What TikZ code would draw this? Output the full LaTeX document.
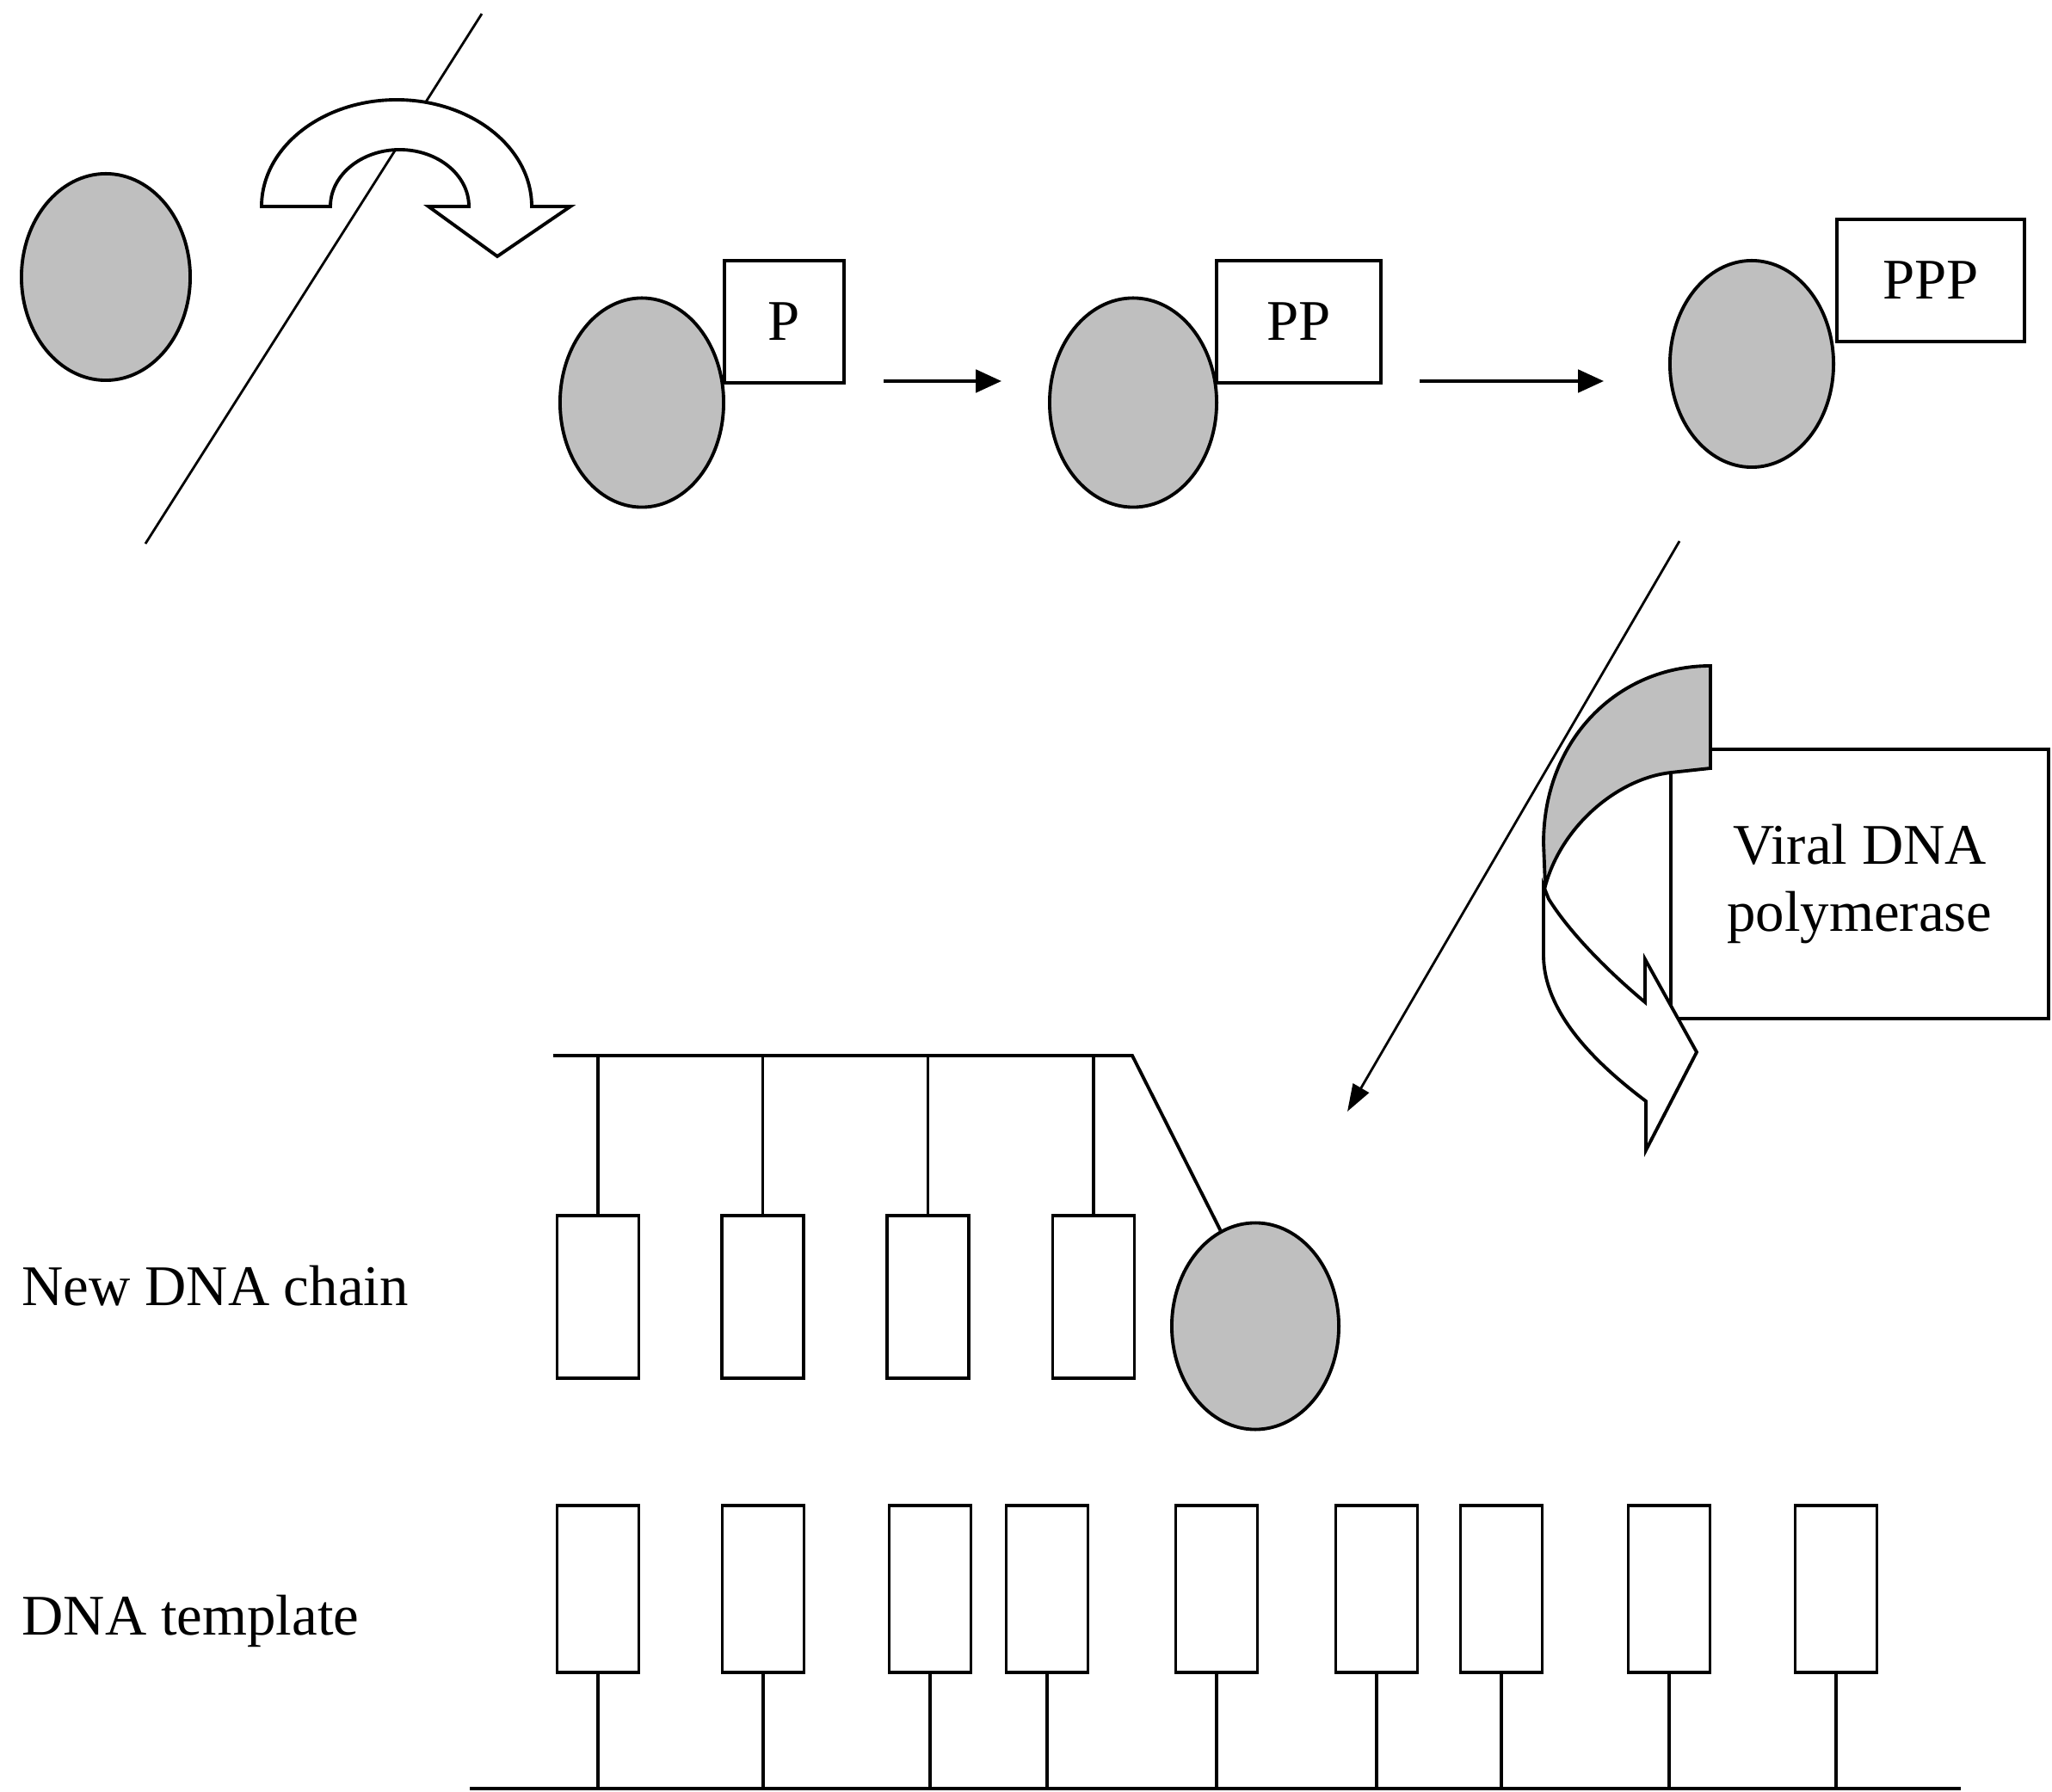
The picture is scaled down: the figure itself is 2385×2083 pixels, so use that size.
\documentclass[tikz,border=0pt]{standalone}
\usepackage{fontspec}
\setmainfont{Liberation Serif}
\usetikzlibrary{shapes.geometric,arrows.meta}
\definecolor{blobgray}{RGB}{191,191,191}
\tikzset{
  blob/.style={ellipse, draw=black, fill=blobgray, line width=1.1pt, inner sep=0pt},
  pbox/.style={rectangle, draw=black, fill=white, line width=1.1pt, inner sep=0pt, align=center, font=\fontsize{19}{22}\selectfont},
  basebox/.style={rectangle, draw=black, fill=white, line width=1.1pt, inner sep=0pt, minimum width=0.95cm},
  lbl/.style={inner sep=0pt, font=\fontsize{19}{22}\selectfont},
  stem/.style={line width=1.1pt},
  thinline/.style={line width=0.8pt},
  smallarrow/.style={line width=1.1pt, -{Triangle[length=8.5pt,width=7.5pt]}},
  curvearrow/.style={draw=black, line width=1.1pt, line join=miter},
}
\begin{document}
\begin{tikzpicture}[x=0.01cm,y=-0.01cm]
\useasboundingbox (0,0) rectangle (2385,2083);

% ---- top-left: free nucleoside, line and curved arrow
\coordinate (l0a) at (560,16);
\coordinate (l0b) at (169,632);
\draw[thinline] (l0a) -- (l0b);
\draw[curvearrow, fill=white] (304,240) arc[start angle=180, end angle=360, x radius=157, y radius=124]
  -- (663,240) -- (578,298) -- (498,240) -- (545,240)
  arc[start angle=360, end angle=180, x radius=80.5, y radius=66] -- cycle;
\node[blob, minimum width=1.96cm, minimum height=2.40cm] (E0) at (123,322) {};

% ---- phosphorylation steps
\node[blob, minimum width=1.90cm, minimum height=2.43cm] (E1) at (746,468) {};
\node[pbox, minimum width=1.39cm, minimum height=1.42cm] (P1) at (911.5,374) {P};
\node[blob, minimum width=1.94cm, minimum height=2.43cm] (E2) at (1317,468) {};
\node[pbox, minimum width=1.91cm, minimum height=1.42cm] (P2) at (1509.5,374) {PP};
\node[blob, minimum width=1.90cm, minimum height=2.40cm] (E3) at (2036,423) {};
\node[pbox, minimum width=2.18cm, minimum height=1.42cm] (P3) at (2244,326) {PPP};

\coordinate (a1s) at (1027,443);
\coordinate (a1e) at (1164,443);
\coordinate (a2s) at (1650,443);
\coordinate (a2e) at (1864,443);
\draw[smallarrow] (a1s) -- (a1e);
\draw[smallarrow] (a2s) -- (a2e);

% ---- viral DNA polymerase
\node[pbox, minimum width=4.39cm, minimum height=3.13cm] (POL) at (2161.5,1027.5) {Viral DNA\\polymerase};
\draw[curvearrow, fill=blobgray] (1988,774) .. controls (1880,774) and (1794,860) .. (1794,980)
  -- (1796,1030) .. controls (1815,960) and (1880,905) .. (1942,898) -- (1988,893) -- cycle;
\draw[curvearrow, fill=white] (1794,1030) -- (1794,1110) .. controls (1794,1180) and (1860,1240) .. (1913,1280)
  -- (1913,1337) -- (1972,1223) -- (1912,1115) -- (1912,1165)
  .. controls (1870,1130) and (1825,1085) .. (1800,1045) -- cycle;

\coordinate (l1a) at (1952,629);
\coordinate (l1b) at (1566,1292);
\draw[thinline, -{Triangle[length=9pt,width=6pt]}] (l1a) -- (l1b);

% ---- new DNA chain
\node[blob, minimum width=1.94cm, minimum height=2.40cm] (E4) at (1459,1541.5) {};
\foreach \x [count=\n] in {695,886.5,1078.5,1271}
  \node[basebox, minimum height=1.89cm] (N\n) at (\x,1507.5) {};
\coordinate (bbL) at (643,1227);
\coordinate (bbR) at (1316,1227);
\draw[stem] (bbL) -- (bbR) -- (E4.110);
\foreach \n in {1,...,4}
  \draw[stem] (N\n.north) -- (N\n.north |- bbL);

% ---- DNA template
\foreach \x [count=\n] in {695,887,1081,1217,1414,1600,1745,1940,2134}
  \node[basebox, minimum height=1.94cm] (T\n) at (\x,1847) {};
\coordinate (blL) at (546,2079);
\coordinate (blR) at (2279,2079);
\draw[stem] (blL) -- (blR);
\foreach \n in {1,...,9}
  \draw[stem] (T\n.south) -- (T\n.south |- blL);

% ---- labels
\node[lbl, anchor=base west] (newlbl) at (25,1517) {New DNA chain};
\node[lbl, anchor=base west] (tmplbl) at (25,1900) {DNA template};
\end{tikzpicture}
\end{document}
